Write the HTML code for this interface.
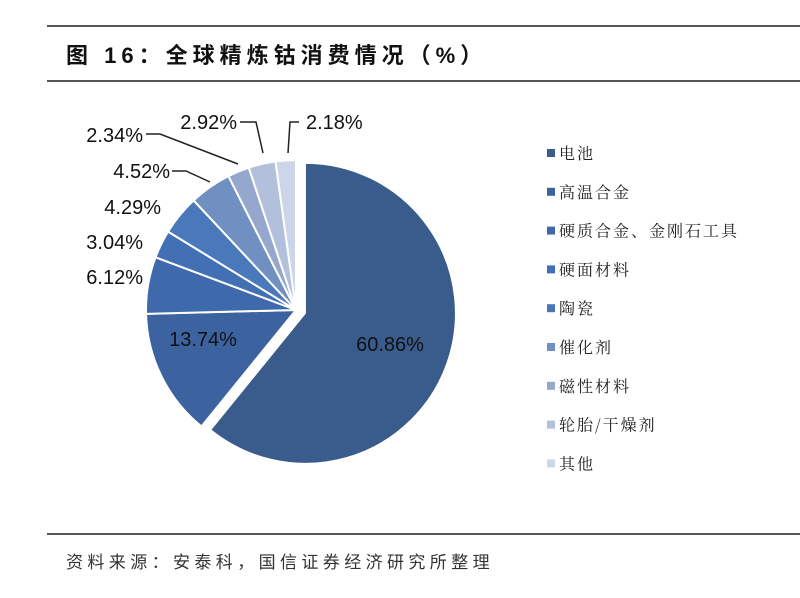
<!DOCTYPE html>
<html><head><meta charset="utf-8"><style>
body{margin:0;background:#fff;width:800px;height:598px;overflow:hidden;font-family:"Liberation Sans","Noto Sans CJK SC",sans-serif}
svg{position:absolute;left:0;top:0}
</style></head><body>
<svg width="800" height="598">
<line x1="47" y1="26" x2="800" y2="26" stroke="#555" stroke-width="2"/>
<text x="66" y="63" font-size="22" font-weight="bold" fill="#111" letter-spacing="5" font-family="Liberation Sans,Noto Sans CJK SC,sans-serif">图 16：全球精炼钴消费情况（%）</text>
<line x1="47" y1="81" x2="800" y2="81" stroke="#555" stroke-width="2"/>
<g id="pie"></g>
<g id="legend"></g>
<line x1="47" y1="534" x2="800" y2="534" stroke="#555" stroke-width="2"/>
<text x="66" y="568" font-size="17" fill="#333" letter-spacing="4.4" font-family="Liberation Sans,Noto Sans CJK SC,sans-serif">资料来源：安泰科，国信证券经济研究所整理</text>
</svg>
<script>
const categories=["电池","高温合金","硬质合金、金刚石工具","硬面材料","陶瓷","催化剂","磁性材料","轮胎/干燥剂","其他"];
const values=[60.86,13.74,6.12,3.04,4.29,4.52,2.34,2.92,2.18];
const labels=["60.86%","13.74%","6.12%","3.04%","4.29%","4.52%","2.34%","2.92%","2.18%"];
const colors=["#3a5c8c","#3c63a0","#3e6aad","#4270b4","#4a79bb","#7090c2","#95a7cc","#b3c0dc","#cdd5e8"];
const labelPos=[[390,351,"middle"],[203,346,"middle"],[143,284,"end"],[143,249,"end"],[161,214,"end"],[170,178,"end"],[143,142,"end"],[237,129,"end"],[306,129,"start"]];
const leaders=[null,null,null,null,null,"172,171 186,171 210,182","146,134 160,134 238,164","240,122 256,122 263,153","299,122 290,122 288,153"];
const ns="http://www.w3.org/2000/svg";
const pie=document.getElementById('pie');
const cx=296,cy=310,R=150;
const total=values.reduce((a,b)=>a+b,0);
let acc=0;
values.forEach((v,i)=>{
  const a0=acc/total*2*Math.PI, a1=(acc+v)/total*2*Math.PI; acc+=v;
  let ox=cx,oy=cy;
  if(i===0){const m=(a0+a1)/2;ox+=10*Math.sin(m);oy-=10*Math.cos(m);}
  const x0=ox+R*Math.sin(a0),y0=oy-R*Math.cos(a0),x1=ox+R*Math.sin(a1),y1=oy-R*Math.cos(a1);
  const p=document.createElementNS(ns,'path');
  p.setAttribute('d',`M${ox},${oy}L${x0},${y0}A${R},${R} 0 ${a1-a0>Math.PI?1:0} 1 ${x1},${y1}Z`);
  p.setAttribute('fill',colors[i]);p.setAttribute('stroke','#fff');p.setAttribute('stroke-width',i===0?'1':'2');
  
  
  pie.appendChild(p);
});
labels.forEach((t,i)=>{
  if(leaders[i]){const l=document.createElementNS(ns,'polyline');
    l.setAttribute('points',leaders[i]);l.setAttribute('fill','none');l.setAttribute('stroke','#222');l.setAttribute('stroke-width','1.5');
    
    
    pie.appendChild(l);}
  const tx=document.createElementNS(ns,'text');
  tx.setAttribute('x',labelPos[i][0]);tx.setAttribute('y',labelPos[i][1]);tx.setAttribute('text-anchor',labelPos[i][2]);
  tx.setAttribute('font-size','20');tx.setAttribute('fill','#111');
  tx.textContent=t;
  
  
  pie.appendChild(tx);
});
const lg=document.getElementById('legend');
categories.forEach((c,i)=>{
  const y=153+i*38.8;
  const g=document.createElementNS(ns,'g');
  
  
  const r=document.createElementNS(ns,'rect');
  r.setAttribute('x',547);r.setAttribute('y',y-4);r.setAttribute('width',8);r.setAttribute('height',8);r.setAttribute('fill',colors[i]);
  const t=document.createElementNS(ns,'text');
  t.setAttribute('x',559);t.setAttribute('y',y+6);t.setAttribute('font-size','16');t.setAttribute('fill','#222');
  t.setAttribute('letter-spacing','2');
  t.setAttribute('font-family','Noto Serif CJK SC,serif');
  t.textContent=c;
  g.appendChild(r);g.appendChild(t);lg.appendChild(g);
});
</script>
</body></html>
